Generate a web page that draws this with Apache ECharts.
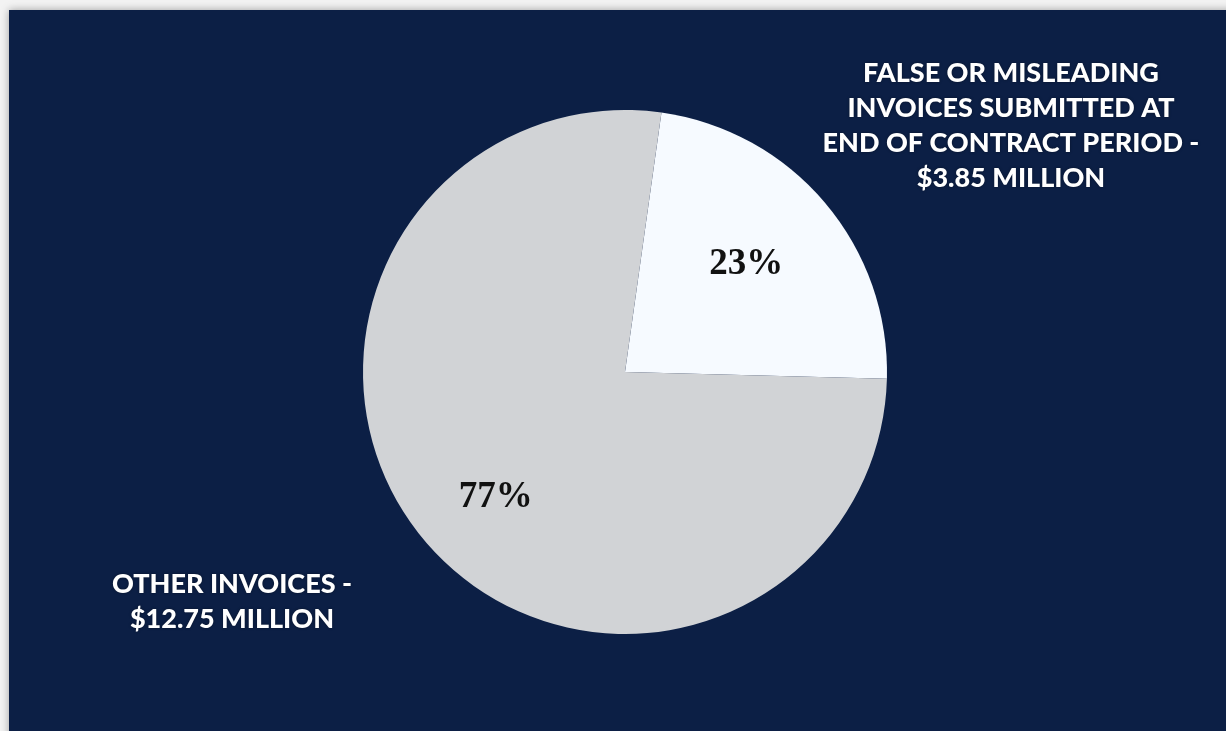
<!DOCTYPE html>
<html>
<head>
<meta charset="utf-8">
<script src="https://cdn.jsdelivr.net/npm/echarts@6/dist/echarts.min.js"></script>
<style>
html,body{margin:0;padding:0;background:#f3f3f3;}
#c{width:1226px;height:731px;}
</style>
</head>
<body>
<div id="c"></div>
<script>
const categories = ['FALSE OR MISLEADING\nINVOICES SUBMITTED AT\nEND OF CONTRACT PERIOD -\n$3.85 MILLION', 'OTHER INVOICES -\n$12.75 MILLION'];
const values = [3.85, 12.75];
const percentLabels = ['23%', '77%'];
const sliceColors = ['#f6faff', '#d1d3d6'];
const labelOffsets = [[19, -21], [-27, 39]];
const outerLabelPos = [[1011, 56], [232, 567]];

const chart = echarts.init(document.getElementById('c'), null, {renderer: 'canvas'});

const data = categories.map((name, i) => ({
  name: name,
  value: values[i],
  itemStyle: {color: sliceColors[i]},
  label: {
    show: true,
    position: 'inside',
    formatter: percentLabels[i],
    offset: labelOffsets[i],
    fontFamily: '"Liberation Serif", "DejaVu Serif", serif',
    fontWeight: 'bold',
    fontSize: 37,
    color: '#111111'
  }
}));

const graphics = [{
  type: 'rect',
  shape: {x: 9, y: 10, width: 1230, height: 740},
  style: {fill: '#0c1f45', shadowBlur: 8, shadowColor: 'rgba(0,0,0,0.35)'},
  z: -10
}];
categories.forEach((name, i) => {
  graphics.push({
    type: 'text',
    x: outerLabelPos[i][0],
    y: outerLabelPos[i][1],
    style: {
      text: name,
      fill: '#ffffff',
      font: '900 27px Lato, "Open Sans", sans-serif',
      textAlign: 'center',
      textVerticalAlign: 'top',
      lineHeight: 35,
      textShadowColor: 'rgba(0,0,0,0.4)',
      textShadowBlur: 3
    },
    z: 10
  });
});

chart.setOption({
  backgroundColor: '#f3f3f3',
  animation: false,
  graphic: graphics,
  series: [{
    type: 'pie',
    center: [625, 372],
    radius: [0, 262],
    startAngle: 82,
    clockwise: true,
    label: {show: true},
    labelLine: {show: false},
    itemStyle: {borderWidth: 0},
    emphasis: {disabled: true},
    data: data
  }]
});
</script>
</body>
</html>
